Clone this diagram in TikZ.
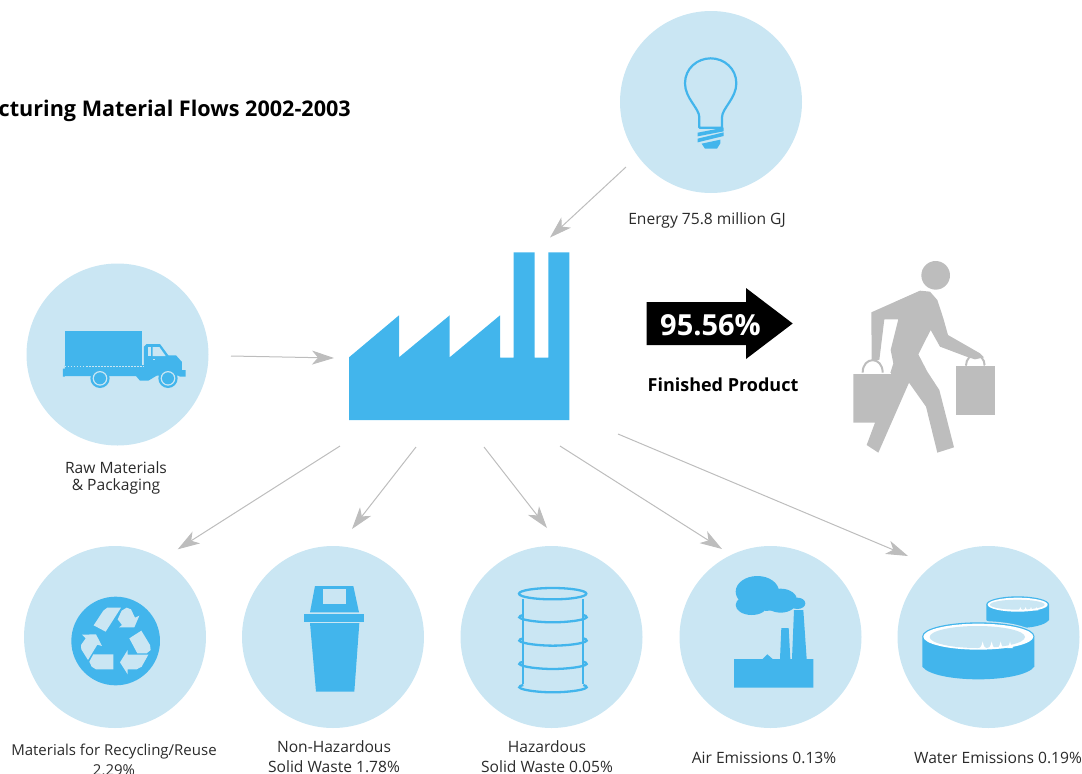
\documentclass[tikz,border=0pt]{standalone}
\usepackage{fontspec}
\setmainfont{Open Sans}
\usetikzlibrary{arrows.meta}
\definecolor{lightc}{HTML}{CAE6F3}
\definecolor{bluec}{HTML}{42B5EC}
\definecolor{greyc}{HTML}{BDBDBD}
\definecolor{textc}{HTML}{2A2A2A}
\tikzset{
  zoomed/.style 2 args={shift={(#1,#2)},x=0.33333pt,y=-0.33333pt},
  disc/.style={circle,fill=lightc,draw=none,minimum size=182pt,inner sep=0pt},
  flow/.style={draw=greyc,line width=1pt,-{Stealth[length=22pt,width=14pt,inset=6pt,fill=greyc]}},
  lbl/.style={anchor=base,inner sep=0pt,text=textc,font=\fontsize{15.6}{18}\selectfont},
}
\begin{document}
\begin{tikzpicture}[x=1pt,y=-1pt]
\useasboundingbox (0,0) rectangle (1082,774);

% discs
\node[disc] (energyDisc) at (711,102) {};
\node[disc] (rawDisc) at (117.5,354.5) {};
\node[disc] (recycleDisc) at (115,637) {};
\node[disc] (binDisc) at (333,637) {};
\node[disc] (drumDisc) at (551.5,637) {};
\node[disc] (airDisc) at (770.5,637) {};
\node[disc] (waterDisc) at (988.5,637) {};

% connector ends
\coordinate (eA) at (626,167);   \coordinate (eB) at (550,237.5);
\coordinate (rA) at (231,356);   \coordinate (rB) at (334,358);
\coordinate (m1A) at (340,446);  \coordinate (m1B) at (177.7,549.3);
\coordinate (m2A) at (416,447);  \coordinate (m2B) at (352,529);
\coordinate (m3A) at (484,447);  \coordinate (m3B) at (547,528);
\coordinate (m4A) at (560,446);  \coordinate (m4B) at (722,549);
\coordinate (m5A) at (618,434);  \coordinate (m5B) at (908,556);
\foreach \p/\q in {eA/eB,rA/rB,m1A/m1B,m2A/m2B,m3A/m3B,m4A/m4B,m5A/m5B}
  \draw[flow] (\p) -- (\q);

% factory
\begin{scope}[zoomed={330}{240}]
\fill[bluec] (57,540)--(57,352)--(207,226)--(207,352)--(359,226)--(359,352)--(510,226)--(510,353)--(551,353)--(551,37)--(614,37)--(614,353)--(655,353)--(655,37)--(718,37)--(718,540)--cycle;
\end{scope}

% bulb
\begin{scope}[zoomed={620}{0}]
\draw[bluec,line width=2.2pt,line join=round] (238,383)--(238,352) .. controls (238,325) and (195,295) .. (195,250) .. controls (195,205) and (232,175) .. (272,175) .. controls (312,175) and (349,205) .. (349,250) .. controls (349,295) and (306,325) .. (306,352) -- (306,383)--cycle;
\fill[bluec] (233,398)--(311,383)--(311,394)--(233,409)--cycle;
\fill[bluec] (233,416)--(311,397)--(311,408)--(233,427)--cycle;
\fill[bluec] (245,431)--(301,419)--(301,430)--(291,446)--(255,446)--cycle;
\end{scope}

% truck
\begin{scope}[zoomed={0}{250}]
\fill[bluec] (195,243) rectangle (426,345);
\fill[bluec] (432,290)--(440,282)--(480,282)--(505,316)--(528,316)--(546,336)--(546,360)--(557,360)--(557,380)--(540,380)--(535,377)--(470,377)--(445,392)--(420,392)--(408,378)--(195,378)--(195,380)--(189,380)--(189,356)--(195,356)--(195,345)--(432,345)--cycle;
\draw[lightc,line width=1pt,dash pattern=on 1.5pt off 1.5pt] (195,350)--(430,350);
\fill[lightc] (458,291)--(478,291)--(497,318)--(458,318)--cycle;
\fill[lightc] (443,291)--(452,291)--(452,318)--(443,318)--cycle;
\fill[lightc] (459,326) rectangle (464,331);
\foreach \c in {300,504}{
  \fill[bluec] (\c,385) circle[radius=29];
  \fill[lightc] (\c,385) circle[radius=22];
  \fill[bluec] (\c,385) circle[radius=18];
}
\end{scope}

% person
\begin{scope}[zoomed={840}{250}]
\fill[greyc] (287,76) circle[radius=43];
\fill[greyc] (94,187)--(240,122)--(270,125)--(292,150)--(310,205)--(324,255)--(420,310)--(432,322)--(405,328)--(385,322)--(300,290)--(272,240)--(235,313)--(262,365)--(298,420)--(342,592)--(292,608)--(258,470)--(207,398)--(115,608)--(80,585)--(105,518)--(40,518)--(40,372)--(150,372)--(160,340)--(152,300)--(175,208)--(133,208)--(118,330)--(95,330)--cycle;
\draw[greyc,line width=2pt] (68,368) .. controls (68,318) and (128,318) .. (128,368);
\fill[greyc] (349,348) rectangle (465,495);
\draw[greyc,line width=2pt] (378,347) .. controls (378,305) and (434,305) .. (434,347);
\draw[white,line width=0.9pt,dash pattern=on 1pt off 1.6pt] (40,369)--(150,369);
\draw[white,line width=0.9pt,dash pattern=on 1pt off 1.6pt] (349,347)--(465,347);
\end{scope}

% recycling
\begin{scope}[zoomed={20}{570}]
\fill[bluec] (287,213) circle[radius=133];
\fill[lightc] (262,113)--(303,113)--(257,185)--(221,166)--(250,122)--cycle;
\fill[lightc] (305,122)--(320,113)--(333,118)--(345,143)--(358,137)--(343,172)--(297,172)--(306,165)--(293,148)--cycle;
\fill[lightc] (328,205)--(364,182)--(390,225)--(392,240)--(380,250)--(352,250)--cycle;
\fill[lightc] (385,254)--(365,290)--(350,298)--(323,298)--(323,313)--(300,277)--(323,240)--(323,254)--cycle;
\fill[lightc] (220,253)--(280,253)--(280,298)--(228,298)--(215,290)--(208,275)--cycle;
\fill[lightc] (186,194)--(228,193)--(246,228)--(232,224)--(204,270)--(184,238)--(183,225)--(197,205)--cycle;
\end{scope}

% bin and drum
\begin{scope}[zoomed={280}{570}]
\fill[bluec] (105,48)--(220,48)--(237,127)--(90,127)--cycle;
\fill[lightc] (128,57) rectangle (197,103);
\fill[bluec] (73,131) rectangle (252,156);
\fill[bluec] (90,159)--(238,159)--(223,365)--(108,365)--cycle;
\begin{scope}[draw=bluec,line width=2.3pt]
\draw (818,71) ellipse[x radius=101,y radius=17];
\draw (730,88)--(730,342);
\draw (910,88)--(910,342);
\foreach \y in {142,212,282,352}{
  \draw (730,\y-7) .. controls (722,\y-6) and (718,\y-3) .. (718,\y) .. controls (724,\y+9) and (780,\y+15) .. (818,\y+15) .. controls (858,\y+15) and (914,\y+9) .. (920,\y) .. controls (920,\y-3) and (916,\y-6) .. (910,\y-7);
}
\end{scope}
\end{scope}

% air emissions and water
\begin{scope}[zoomed={710}{560}]
\fill[bluec] (72,297)--(158,297)--(172,283)--(188,297)--(210,297)--(214,204)--(236,204)--(241,297)--(246,297)--(252,150)--(280,150)--(290,297)--(310,297)--(310,383)--(72,383)--cycle;
\fill[bluec] (142,95) ellipse[x radius=65,y radius=47];
\fill[bluec] (125,135) ellipse[x radius=48,y radius=30];
\fill[bluec] (212,122) ellipse[x radius=50,y radius=36];
\fill[bluec] (262,130) ellipse[x radius=24,y radius=17];
\fill[bluec] (150,120)--(245,120)--(240,147)--(165,153)--cycle;
% small tank
\fill[bluec] (829,133) -- (829,180) .. controls (840,196) and (885,204) .. (923,204) .. controls (965,204) and (1005,196) .. (1017,180) -- (1017,133) -- cycle;
\fill[bluec] (923,133) ellipse[x radius=94,y radius=24];
\fill[white] (923,134) ellipse[x radius=90,y radius=21];
\fill[lightc] (922,134) ellipse[x radius=82,y radius=15];
\foreach \w in {925,941,957,973}
  \fill[white] (\w,151) .. controls (\w+4,150) and (\w+5,143) .. (\w+6,141) .. controls (\w+7,143) and (\w+8,150) .. (\w+12,151) -- cycle;
% large tank
\fill[lightc] (805,228) ellipse[x radius=172,y radius=45];
\fill[bluec] (637,228) -- (637,320) .. controls (655,345) and (730,358) .. (805,358) .. controls (880,358) and (955,345) .. (973,320) -- (973,228) -- cycle;
\fill[bluec] (805,228) ellipse[x radius=168,y radius=41];
\fill[white] (805,230) ellipse[x radius=165,y radius=39];
\fill[lightc] (802,231) ellipse[x radius=143,y radius=33];
\foreach \w in {808,835,862,890}
  \fill[white] (\w,264) .. controls (\w+7,262) and (\w+9,248) .. (\w+10,244) .. controls (\w+11,248) and (\w+13,262) .. (\w+20,264) -- cycle;
\end{scope}

% black arrow
\fill[black] (646.7,302)--(746,302)--(746,288)--(792.7,323.5)--(746,359)--(746,345)--(646.7,345)--cycle;
\node[anchor=base,inner sep=0pt,text=white,font=\fontsize{29}{34}\bfseries\selectfont] (pct) at (710.5,335) {95.56\%};
\node[anchor=base,inner sep=0pt,text=black,font=\fontsize{18}{22}\bfseries\selectfont] (fin) at (723,391) {Finished Product};

% labels
\node[anchor=base east,inner sep=0pt,text=black,font=\fontsize{21.6}{26}\bfseries\selectfont] (title) at (351,116) {cturing Material Flows 2002-2003};
\node[lbl] (energyLbl) at (707,224) {Energy 75.8 million GJ};
\node[lbl] (rawLbl1) at (116,473) {Raw Materials};
\node[lbl] (rawLbl2) at (116,490) {\& Packaging};
\node[lbl,font=\fontsize{15}{18}\selectfont] (recLbl1) at (114,755) {Materials for Recycling/Reuse};
\node[lbl,font=\fontsize{15}{18}\selectfont] (recLbl2) at (114,775) {2.29\%};
\node[lbl] (binLbl1) at (334,752) {Non-Hazardous};
\node[lbl] (binLbl2) at (334,772) {Solid Waste 1.78\%};
\node[lbl] (drumLbl1) at (547,752) {Hazardous};
\node[lbl] (drumLbl2) at (547,772) {Solid Waste 0.05\%};
\node[lbl] (airLbl) at (764,763) {Air Emissions 0.13\%};
\node[lbl] (waterLbl) at (998,763) {Water Emissions 0.19\%};
\end{tikzpicture}
\end{document}
